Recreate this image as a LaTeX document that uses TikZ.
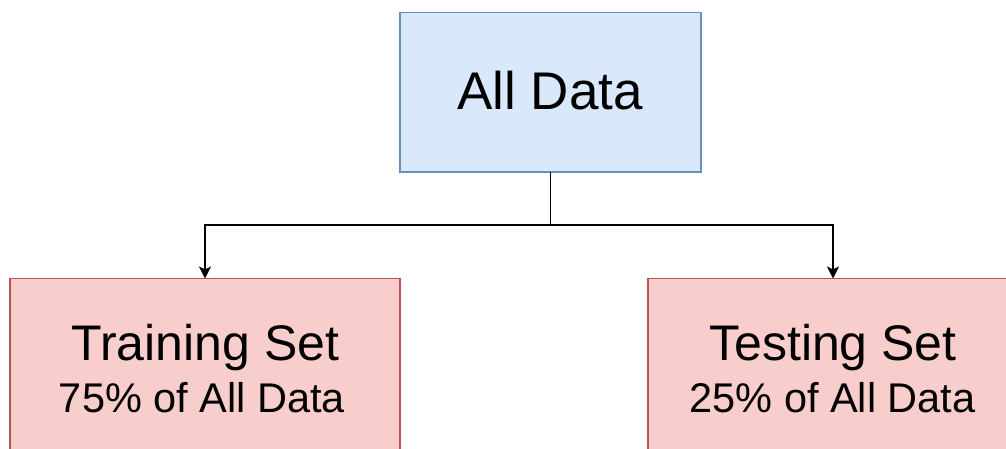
\documentclass[tikz,border=0pt]{standalone}
\usepackage{fontspec}
\setmainfont{Liberation Sans}
\usetikzlibrary{arrows.meta}
\definecolor{bluefill}{HTML}{DAE8FC}
\definecolor{bluestroke}{HTML}{6C8EBF}
\definecolor{redfill}{HTML}{F8CECC}
\definecolor{redstroke}{HTML}{B85450}
\tikzset{
  boxbase/.style={rectangle, inner sep=0pt, outer sep=0pt, line width=1.5pt, anchor=north west},
  bluebox/.style={boxbase, fill=bluefill, draw=bluestroke},
  redbox/.style={boxbase, fill=redfill, draw=redstroke},
  conn/.style={line width=1.8pt, draw=black, -{Stealth[width=12pt,length=12pt,inset=3pt]}},
  bigtext/.style={anchor=base, font=\fontsize{53}{60}\selectfont},
  titletext/.style={anchor=base, font=\fontsize{50}{56}\selectfont},
  subtext/.style={anchor=base, font=\fontsize{41.5}{48}\selectfont}
}
\begin{document}
\begin{tikzpicture}[x=1pt, y=-1pt]
\useasboundingbox (0,0) rectangle (1006,449);
\clip (0,0) rectangle (1006,449);
\fill[white] (0,0) rectangle (1006,449);
\node[bluebox, minimum width=301pt, minimum height=159.5pt] (all) at (400,12.5) {};
\node[redbox, minimum width=390pt, minimum height=220pt] (train) at (10,278.5) {};
\node[redbox, minimum width=370pt, minimum height=220pt] (test) at (648,278.5) {};
\node[bigtext] (alltxt) at (550,110) {All Data};
\node[titletext] (traintitle) at (205.5,360) {Training Set};
\node[subtext] (trainsub) at (202,412) {75\% of All Data};
\node[titletext] (testtitle) at (833,360) {Testing Set};
\node[subtext] (testsub) at (832.5,412) {25\% of All Data};
\coordinate (split) at (all.south |- 0,225);
\draw[line width=1.8pt] (all.south) -- (split);
\draw[conn] (split) -| (train.north);
\draw[conn] (split) -| (test.north);
\end{tikzpicture}
\end{document}
